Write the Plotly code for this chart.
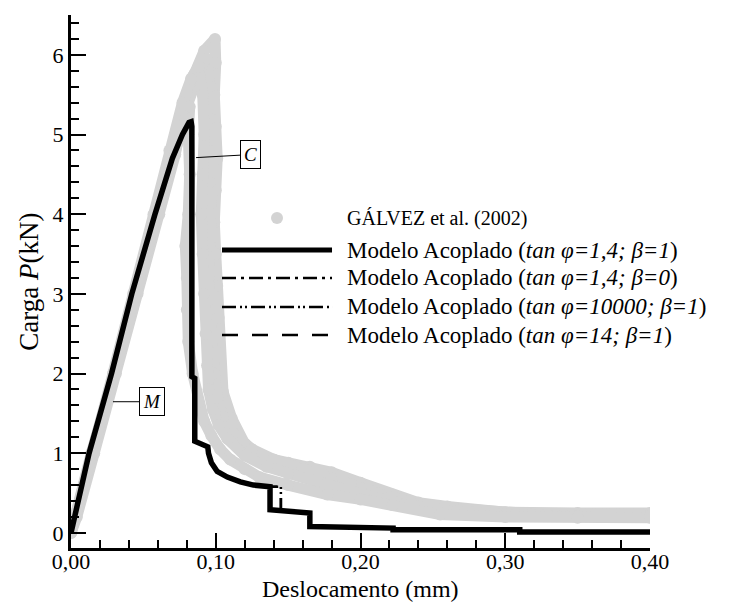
import plotly.graph_objects as go

# GÁLVEZ et al. (2002) - experimental results (four tests read from the cloud)
galvez_1_x = [0.0, 0.004, 0.016, 0.031, 0.046, 0.061, 0.072, 0.078, 0.085, 0.092, 0.0995,
              0.100, 0.099, 0.100, 0.101, 0.100, 0.099, 0.100, 0.101, 0.102, 0.102, 0.105,
              0.111, 0.120, 0.130, 0.150, 0.165, 0.180, 0.200, 0.222, 0.240, 0.260, 0.300,
              0.350, 0.400]
galvez_1_y = [0.0, 0.2, 1.0, 2.0, 3.0, 4.0, 4.75, 5.3, 5.75, 6.05, 6.2,
              5.9, 5.5, 5.1, 4.7, 4.3, 3.9, 3.5, 3.1, 2.7, 2.4, 1.77,
              1.44, 1.12, 0.96, 0.88, 0.83, 0.76, 0.63, 0.48, 0.38, 0.33, 0.26,
              0.25, 0.25]

galvez_2_x = [0.0, 0.015, 0.029, 0.043, 0.057, 0.068, 0.077, 0.083, 0.088, 0.091, 0.092,
              0.091, 0.090, 0.091, 0.092, 0.093, 0.094, 0.095, 0.098, 0.102, 0.108, 0.120,
              0.135, 0.150, 0.170, 0.190, 0.210, 0.230, 0.260, 0.300, 0.350, 0.400]
galvez_2_y = [0.0, 1.0, 2.0, 3.0, 4.0, 4.8, 5.4, 5.7, 5.85, 5.5, 5.0,
              4.5, 4.0, 3.5, 3.0, 2.5, 2.1, 1.8, 1.55, 1.35, 1.18, 0.97,
              0.83, 0.74, 0.64, 0.54, 0.44, 0.36, 0.28, 0.23, 0.21, 0.21]

galvez_3_x = [0.0, 0.014, 0.030, 0.044, 0.059, 0.072, 0.079, 0.082, 0.081, 0.082, 0.081,
              0.079, 0.080, 0.080, 0.081, 0.084, 0.088, 0.092, 0.097, 0.103, 0.110, 0.120,
              0.130, 0.150, 0.177, 0.200, 0.222, 0.255, 0.300, 0.350, 0.400]
galvez_3_y = [0.0, 1.0, 2.0, 3.0, 4.0, 4.8, 5.2, 5.35, 5.0, 4.5, 4.0,
              3.6, 3.2, 2.8, 2.4, 2.0, 1.65, 1.4, 1.22, 1.05, 0.92, 0.80,
              0.70, 0.60, 0.48, 0.42, 0.35, 0.23, 0.20, 0.19, 0.19]

galvez_4_x = [0.0, 0.0155, 0.0305, 0.0455, 0.060, 0.070, 0.078, 0.085, 0.090, 0.094, 0.096,
              0.096, 0.095, 0.096, 0.097, 0.096, 0.095, 0.096, 0.097, 0.099, 0.101, 0.105,
              0.112, 0.125, 0.140, 0.160, 0.180, 0.200, 0.220, 0.240, 0.270, 0.320, 0.400]
galvez_4_y = [0.0, 1.0, 2.0, 3.0, 4.0, 4.7, 5.25, 5.6, 5.85, 5.95, 5.6,
              5.2, 4.8, 4.4, 4.0, 3.6, 3.2, 2.8, 2.4, 2.0, 1.7, 1.45,
              1.25, 1.05, 0.92, 0.80, 0.68, 0.56, 0.45, 0.37, 0.30, 0.24, 0.23]

# Modelo Acoplado (tan phi = 1,4; beta = 1)
modelo_x = [0.0, 0.0125, 0.028, 0.042, 0.058, 0.070, 0.077, 0.0815, 0.0830, 0.0835,
            0.0835, 0.0855, 0.0855, 0.0905, 0.0945, 0.0950, 0.097, 0.101, 0.108, 0.117,
            0.126, 0.1375, 0.1375, 0.165, 0.165, 0.2225, 0.2225, 0.310, 0.310, 0.400]
modelo_y = [0.0, 1.0, 2.0, 3.0, 4.0, 4.7, 5.0, 5.15, 5.16, 5.1,
            1.96, 1.94, 1.15, 1.12, 1.08, 1.0, 0.88, 0.77, 0.70, 0.64,
            0.60, 0.58, 0.29, 0.25, 0.08, 0.06, 0.04, 0.04, 0.01, 0.01]

# Modelo Acoplado (tan phi = 1,4; beta = 0)
modelo_b0_x = modelo_x
modelo_b0_y = modelo_y

# Modelo Acoplado (tan phi = 10000; beta = 1)
modelo_t10000_x = [0.0, 0.0125, 0.028, 0.042, 0.058, 0.070, 0.077, 0.0815, 0.0830, 0.0835,
                   0.0835, 0.0855, 0.0855, 0.0905, 0.0945, 0.0950, 0.097, 0.101, 0.108, 0.117,
                   0.126, 0.1375, 0.145, 0.145, 0.165, 0.165, 0.2225, 0.2225, 0.310, 0.310, 0.400]
modelo_t10000_y = [0.0, 1.0, 2.0, 3.0, 4.0, 4.7, 5.0, 5.15, 5.16, 5.1,
                   1.96, 1.94, 1.15, 1.12, 1.08, 1.0, 0.88, 0.77, 0.70, 0.64,
                   0.60, 0.58, 0.58, 0.29, 0.25, 0.08, 0.06, 0.04, 0.04, 0.01, 0.01]

# Modelo Acoplado (tan phi = 14; beta = 1)
modelo_t14_x = modelo_t10000_x
modelo_t14_y = modelo_t10000_y

legend_labels = [
    "GÁLVEZ et al. (2002)",
    "Modelo Acoplado (<i>tan φ=1,4; β=1</i>)",
    "Modelo Acoplado (<i>tan φ=1,4; β=0</i>)",
    "Modelo Acoplado (<i>tan φ=10000; β=1</i>)",
    "Modelo Acoplado (<i>tan φ=14; β=1</i>)",
]

GRAY = "#d3d3d3"
SERIF = "Liberation Serif"

fig = go.Figure()

for gx, gy in [(galvez_1_x, galvez_1_y), (galvez_4_x, galvez_4_y),
               (galvez_2_x, galvez_2_y), (galvez_3_x, galvez_3_y)]:
    fig.add_trace(go.Scatter(
        x=gx, y=gy, mode="lines+markers",
        line=dict(color=GRAY, width=11),
        marker=dict(color=GRAY, size=12),
        showlegend=False, hoverinfo="skip",
    ))

dashes = ["14px,5px,3px,5px", "14px,4px,2px,3px,2px,4px", "16px,14px"]
for (mx, my), dash in zip([(modelo_b0_x, modelo_b0_y), (modelo_t10000_x, modelo_t10000_y),
                           (modelo_t14_x, modelo_t14_y)], dashes):
    fig.add_trace(go.Scatter(
        x=mx, y=my, mode="lines",
        line=dict(color="black", width=2.5, dash=dash),
        showlegend=False,
    ))

fig.add_trace(go.Scatter(
    x=modelo_x, y=modelo_y, mode="lines",
    line=dict(color="black", width=5.5),
    showlegend=False,
))

# hand drawn legend (long line samples as in the original)
row_y = [0.619, 0.559, 0.5066, 0.4522, 0.3996]
line_styles = [None, ("solid", 5), (dashes[0], 2.5), (dashes[1], 2.5), (dashes[2], 2.5)]
for i, (label, ry) in enumerate(zip(legend_labels, row_y)):
    if i == 0:
        fig.add_shape(type="circle", xref="paper", yref="paper",
                      xsizemode="pixel", ysizemode="pixel",
                      xanchor=0.3558, yanchor=ry, x0=-6, x1=6, y0=-6, y1=6,
                      fillcolor=GRAY, line=dict(width=0))
    else:
        dash, width = line_styles[i]
        fig.add_shape(type="line", xref="paper", yref="paper",
                      x0=0.2608, x1=0.4508, y0=ry, y1=ry,
                      line=dict(color="black", width=width, dash=dash))
    fig.add_annotation(
        text=label, xref="paper", yref="paper", x=0.4732, y=ry,
        xanchor="left", yanchor="middle", showarrow=False,
        font=dict(family=SERIF, size=20 if i == 0 else 23, color="black"),
    )

# point labels
for txt, px, py, ax, ay in [("<i>C</i>", 0.0864, 4.71, 54, -3), ("<i>M</i>", 0.029, 1.646, 39, 0)]:
    fig.add_annotation(
        text=txt, x=px, y=py, ax=ax, ay=ay,
        showarrow=True, arrowhead=0, arrowwidth=1, arrowcolor="black",
        bordercolor="black", borderwidth=1, borderpad=3, bgcolor="white",
        font=dict(family=SERIF, size=19, color="black"),
    )

# axis titles
fig.add_annotation(
    text="Deslocamento (mm)", xref="paper", yref="paper", x=0.5, y=-0.1032,
    xanchor="center", yanchor="bottom", showarrow=False, borderpad=0,
    font=dict(family=SERIF, size=24, color="black"),
)
fig.add_annotation(
    text="Carga <i>P</i>(kN)", xref="paper", yref="paper", x=-0.074, y=0.5,
    xanchor="center", yanchor="middle", showarrow=False, textangle=-90,
    font=dict(family=SERIF, size=27, color="black"),
)

axis_common = dict(
    showline=True, linecolor="black", linewidth=3,
    ticks="inside", ticklen=15, tickwidth=2, tickcolor="black",
    showgrid=False, zeroline=False, automargin=False,
    tickfont=dict(family=SERIF, size=22, color="black"),
)

fig.update_xaxes(
    range=[0, 0.40], tick0=0, dtick=0.1, tickformat=".2f", ticklabelstandoff=-8,
    minor=dict(ticks="inside", dtick=0.02, tick0=0, ticklen=8, tickwidth=2, tickcolor="black"),
    **axis_common,
)
fig.update_yaxes(
    range=[-0.19, 6.5], tick0=0, dtick=1,
    minor=dict(ticks="inside", dtick=0.2, tick0=0, ticklen=8, tickwidth=2, tickcolor="black"),
    **axis_common,
)

# the page body has an 8px margin, so the margins are shifted by that amount
fig.update_layout(
    width=732, height=603,
    margin=dict(l=63, r=90, t=7, b=63),
    plot_bgcolor="white", paper_bgcolor="white",
    separators=",.",
    showlegend=False,
)

fig.write_html("out.html")
